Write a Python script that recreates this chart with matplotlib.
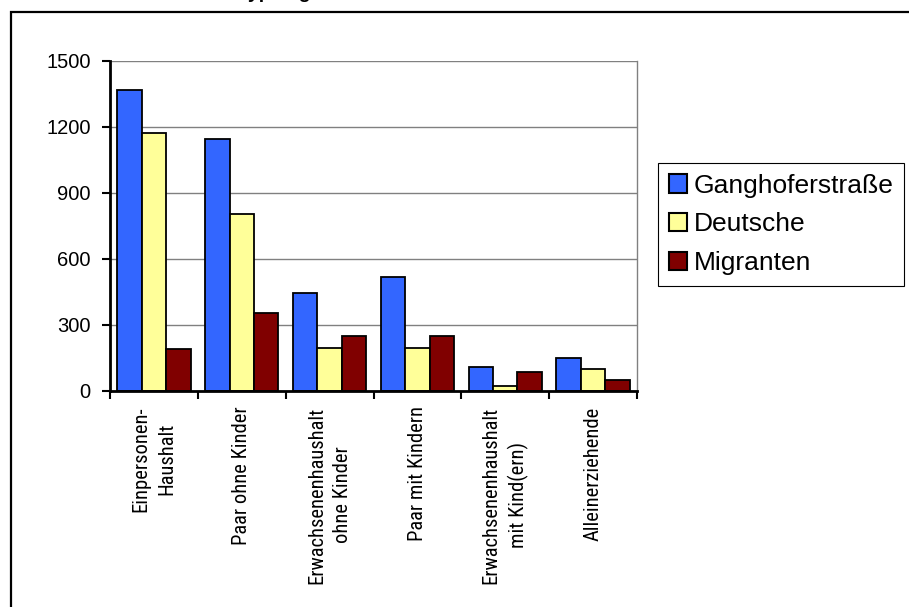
import numpy as np
import matplotlib
matplotlib.use("Agg")
import matplotlib.pyplot as plt
from matplotlib import font_manager
from matplotlib.patches import Rectangle

# Haushaltstypen: Ganghoferstraße gesamt, Deutsche, Migranten
categories = ["Einpersonen-\nHaushalt", "Paar ohne Kinder",
              "Erwachsenenhaushalt\nohne Kinder", "Paar mit Kindern",
              "Erwachsenenhaushalt\nmit Kind(ern)", "Alleinerziehende"]
ganghofer = [1368, 1147, 444, 520, 110, 148]
deutsche = [1171, 806, 194, 194, 24, 100]
migranten = [189, 353, 251, 251, 88, 50]

series_names = ["Ganghoferstraße", "Deutsche", "Migranten"]
series_colors = ["#3366FF", "#FFFF99", "#800000"]
y_ticks = [0, 300, 600, 900, 1200, 1500]

plt.rcParams['font.family'] = ['Liberation Sans', 'DejaVu Sans']

# schmale Schrift fuer die Kategorien, falls vorhanden
installed = {f.name for f in font_manager.fontManager.ttflist}
narrow = next((n for n in ['Liberation Sans Narrow', 'DejaVu Sans Condensed',
                           'Roboto Condensed', 'Open Sans Condensed']
               if n in installed), None)
cat_font = [narrow, 'DejaVu Sans'] if narrow else ['Liberation Sans']
cat_size = 14.8 if narrow else 12.5

fig = plt.figure(figsize=(9.09, 6.07), dpi=100)
ax = fig.add_axes([110 / 909, 1 - 391 / 607, 527 / 909, 330 / 607])

x = np.arange(len(categories))
width = 1 / 3.6
for i, (vals, name, col) in enumerate(zip([ganghofer, deutsche, migranten],
                                          series_names, series_colors)):
    ax.bar(x + (i - 1) * width, vals, width, color=col, edgecolor='black',
           linewidth=1.3, label=name, zorder=3)

ax.set_xlim(-0.5, len(categories) - 0.5)
ax.set_ylim(0, 1500)
ax.set_yticks(y_ticks)
ax.tick_params(axis='y', direction='out', length=6, width=1.5,
               labelsize=14.5, pad=8)

# Kategorien mittig, Teilstriche an den Gruppengrenzen
ax.set_xticks(x)
ax.set_xticklabels(categories, rotation=90, ha='center', va='top',
                   multialignment='center', fontsize=cat_size,
                   family=cat_font, linespacing=1.45)
ax.tick_params(axis='x', which='major', length=0, pad=11)
ax.set_xticks(np.arange(len(categories) + 1) - 0.5, minor=True)
ax.tick_params(axis='x', which='minor', direction='out', length=6, width=1.5)

ax.grid(axis='y', color='#808080', linewidth=1, zorder=0)
ax.set_axisbelow(True)
for side in ['left', 'bottom']:
    ax.spines[side].set_linewidth(2)
    ax.spines[side].set_color('black')
    ax.spines[side].set_zorder(4)
ax.spines['top'].set_visible(False)
ax.spines['right'].set_color('#808080')
ax.spines['right'].set_linewidth(1)

leg = ax.legend(loc='upper left', bbox_to_anchor=(658 / 909, 1 - 163 / 607),
                bbox_transform=fig.transFigure, fontsize=19,
                fancybox=False, edgecolor='black', framealpha=1,
                handlelength=0.7, handleheight=0.7, handletextpad=0.25,
                borderpad=0.4, labelspacing=0.56, borderaxespad=0)
leg.get_frame().set_linewidth(0.8)
for h in leg.legend_handles:
    h.set_linewidth(1.5)

# Rahmen um das Diagramm
fig.patches.append(Rectangle((11 / 909, -0.1), 1.2, 1 - 12 / 607 + 0.1,
                             transform=fig.transFigure, fill=False,
                             edgecolor='black', linewidth=1.6))

fig.text(148 / 909, 1 + 1.5 / 607, "Haushaltstypen gesamt", fontsize=14,
         fontweight='bold', va='baseline', ha='left')

fig.savefig("out.png", dpi=100)
